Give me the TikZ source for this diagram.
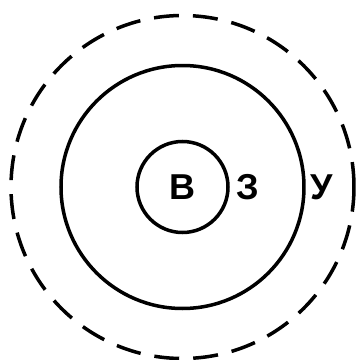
\documentclass[tikz,border=0pt]{standalone}
\usepackage{fontspec}
\setmainfont{Liberation Sans}
\usetikzlibrary{positioning}

\tikzset{
  ring/.style={circle, draw=black, line width=3.5pt, inner sep=0pt},
  outerring/.style={ring, dash pattern=on 25pt off 14pt},
  lbl/.style={font=\fontsize{36}{38}\selectfont\bfseries, inner sep=0pt}
}

\begin{document}
\begin{tikzpicture}[x=1pt, y=1pt]
    \useasboundingbox (0,0) rectangle (356,360);
    \coordinate (c) at (182.5,173);

    % concentric zones
    \node[outerring, minimum size=343pt] (outer) at (c) {};
    \node[ring, minimum size=243pt] (middle) at (c) {};
    \node[ring, minimum size=91pt] (inner) at (c) {};

    % labels
    \node[lbl] (b) at (c) {В};
    \node[lbl] (z) at (248,173) {З};
    \node[lbl] (u) at (322,173) {У};
\end{tikzpicture}
\end{document}
